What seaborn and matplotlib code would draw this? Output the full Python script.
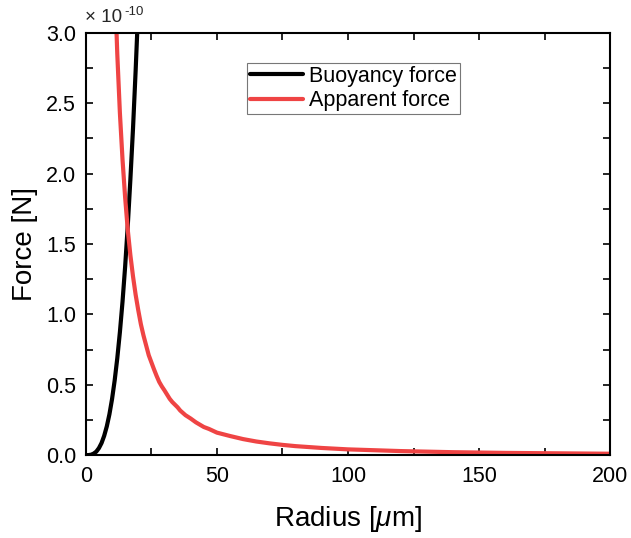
import numpy as np
import matplotlib
matplotlib.use("Agg")
import matplotlib.pyplot as plt
import seaborn as sns
from matplotlib.ticker import MultipleLocator

sns.set_theme(style="ticks")
plt.rcParams["font.family"] = ["Liberation Sans", "DejaVu Sans"]
plt.rcParams["mathtext.fontset"] = "custom"
plt.rcParams["mathtext.rm"] = "Liberation Sans"
plt.rcParams["mathtext.it"] = "Liberation Sans:italic"

# values, force in units of 1e-10 N
buoy_radius = [0, 1, 2, 3, 4, 5, 6, 7, 8, 9, 10, 11, 12, 13, 14, 15, 16, 17, 18, 19, 20]
buoy_force = [0, 0.0004, 0.003, 0.011, 0.025, 0.050, 0.086, 0.137, 0.204, 0.290, 0.398,
              0.530, 0.688, 0.874, 1.09, 1.34, 1.63, 1.96, 2.32, 2.73, 3.18]

app_radius = [11, 12, 13, 14, 15, 16, 17, 18, 19, 20, 21, 22, 23, 24, 25, 26, 27, 28, 29,
              30, 32, 33, 35, 36, 38, 40, 42, 45, 47, 50, 55, 60, 65, 70, 75, 80, 90, 100,
              120, 140, 160, 180, 200]
app_force = [3.39, 2.85, 2.43, 2.10, 1.83, 1.60, 1.42, 1.27, 1.14, 1.03, 0.93, 0.85, 0.78,
             0.71, 0.66, 0.61, 0.563, 0.52, 0.488, 0.46, 0.40, 0.377, 0.34, 0.317, 0.284,
             0.26, 0.233, 0.20, 0.186, 0.16, 0.136, 0.114, 0.097, 0.084, 0.073, 0.064,
             0.051, 0.041, 0.029, 0.021, 0.016, 0.013, 0.010]

fig = plt.figure(figsize=(6.31, 5.38), dpi=100)
ax = fig.add_axes([0.136, 0.154, 0.831, 0.785])

sns.lineplot(x=buoy_radius, y=np.array(buoy_force) * 1e-10, color="black", lw=3,
             label="Buoyancy force", ax=ax)
sns.lineplot(x=app_radius, y=np.array(app_force) * 1e-10, color="#EF4444", lw=3,
             label="Apparent force", ax=ax)

ax.set_xlim(0, 200)
ax.set_ylim(0, 3e-10)
ax.xaxis.set_major_locator(MultipleLocator(50))
ax.xaxis.set_minor_locator(MultipleLocator(25))
ax.yaxis.set_major_locator(MultipleLocator(0.5e-10))
ax.yaxis.set_minor_locator(MultipleLocator(0.25e-10))
ax.yaxis.set_major_formatter(plt.FuncFormatter(lambda v, p: f"{v * 1e10:.1f}"))
ax.yaxis.offsetText.set_visible(False)
ax.xaxis.offsetText.set_visible(False)

ax.tick_params(which="both", direction="in", top=True, right=True, length=5,
               width=1.2, labelsize=15.5, color="black", labelcolor="black")
ax.tick_params(axis="x", pad=8)
ax.tick_params(axis="y", pad=7)
for s in ax.spines.values():
    s.set_linewidth(1.5)
    s.set_color("black")

ax.set_xlabel(r"Radius [$\mu$m]", fontsize=20, labelpad=12, color="black")
ax.set_ylabel("Force [N]", fontsize=20, labelpad=6, color="black")

# multiplier above the y axis
fig.text(85 / 631, 1 - 22 / 538, "\u00d7 10", fontsize=13.5, ha="left", va="baseline")
fig.text(124 / 631, 1 - 15 / 538, "-10", fontsize=9.5, ha="left", va="baseline")

leg = ax.legend(loc="upper left", bbox_to_anchor=(0.307, 0.929), fontsize=15.5,
                frameon=True, fancybox=False, edgecolor="#555555", handlelength=2.45,
                handletextpad=0.28, borderpad=0.15, labelspacing=0.15, borderaxespad=0)
leg.get_frame().set_linewidth(0.8)
for t in leg.get_texts():
    t.set_color("black")

fig.savefig("out.png", dpi=100)
